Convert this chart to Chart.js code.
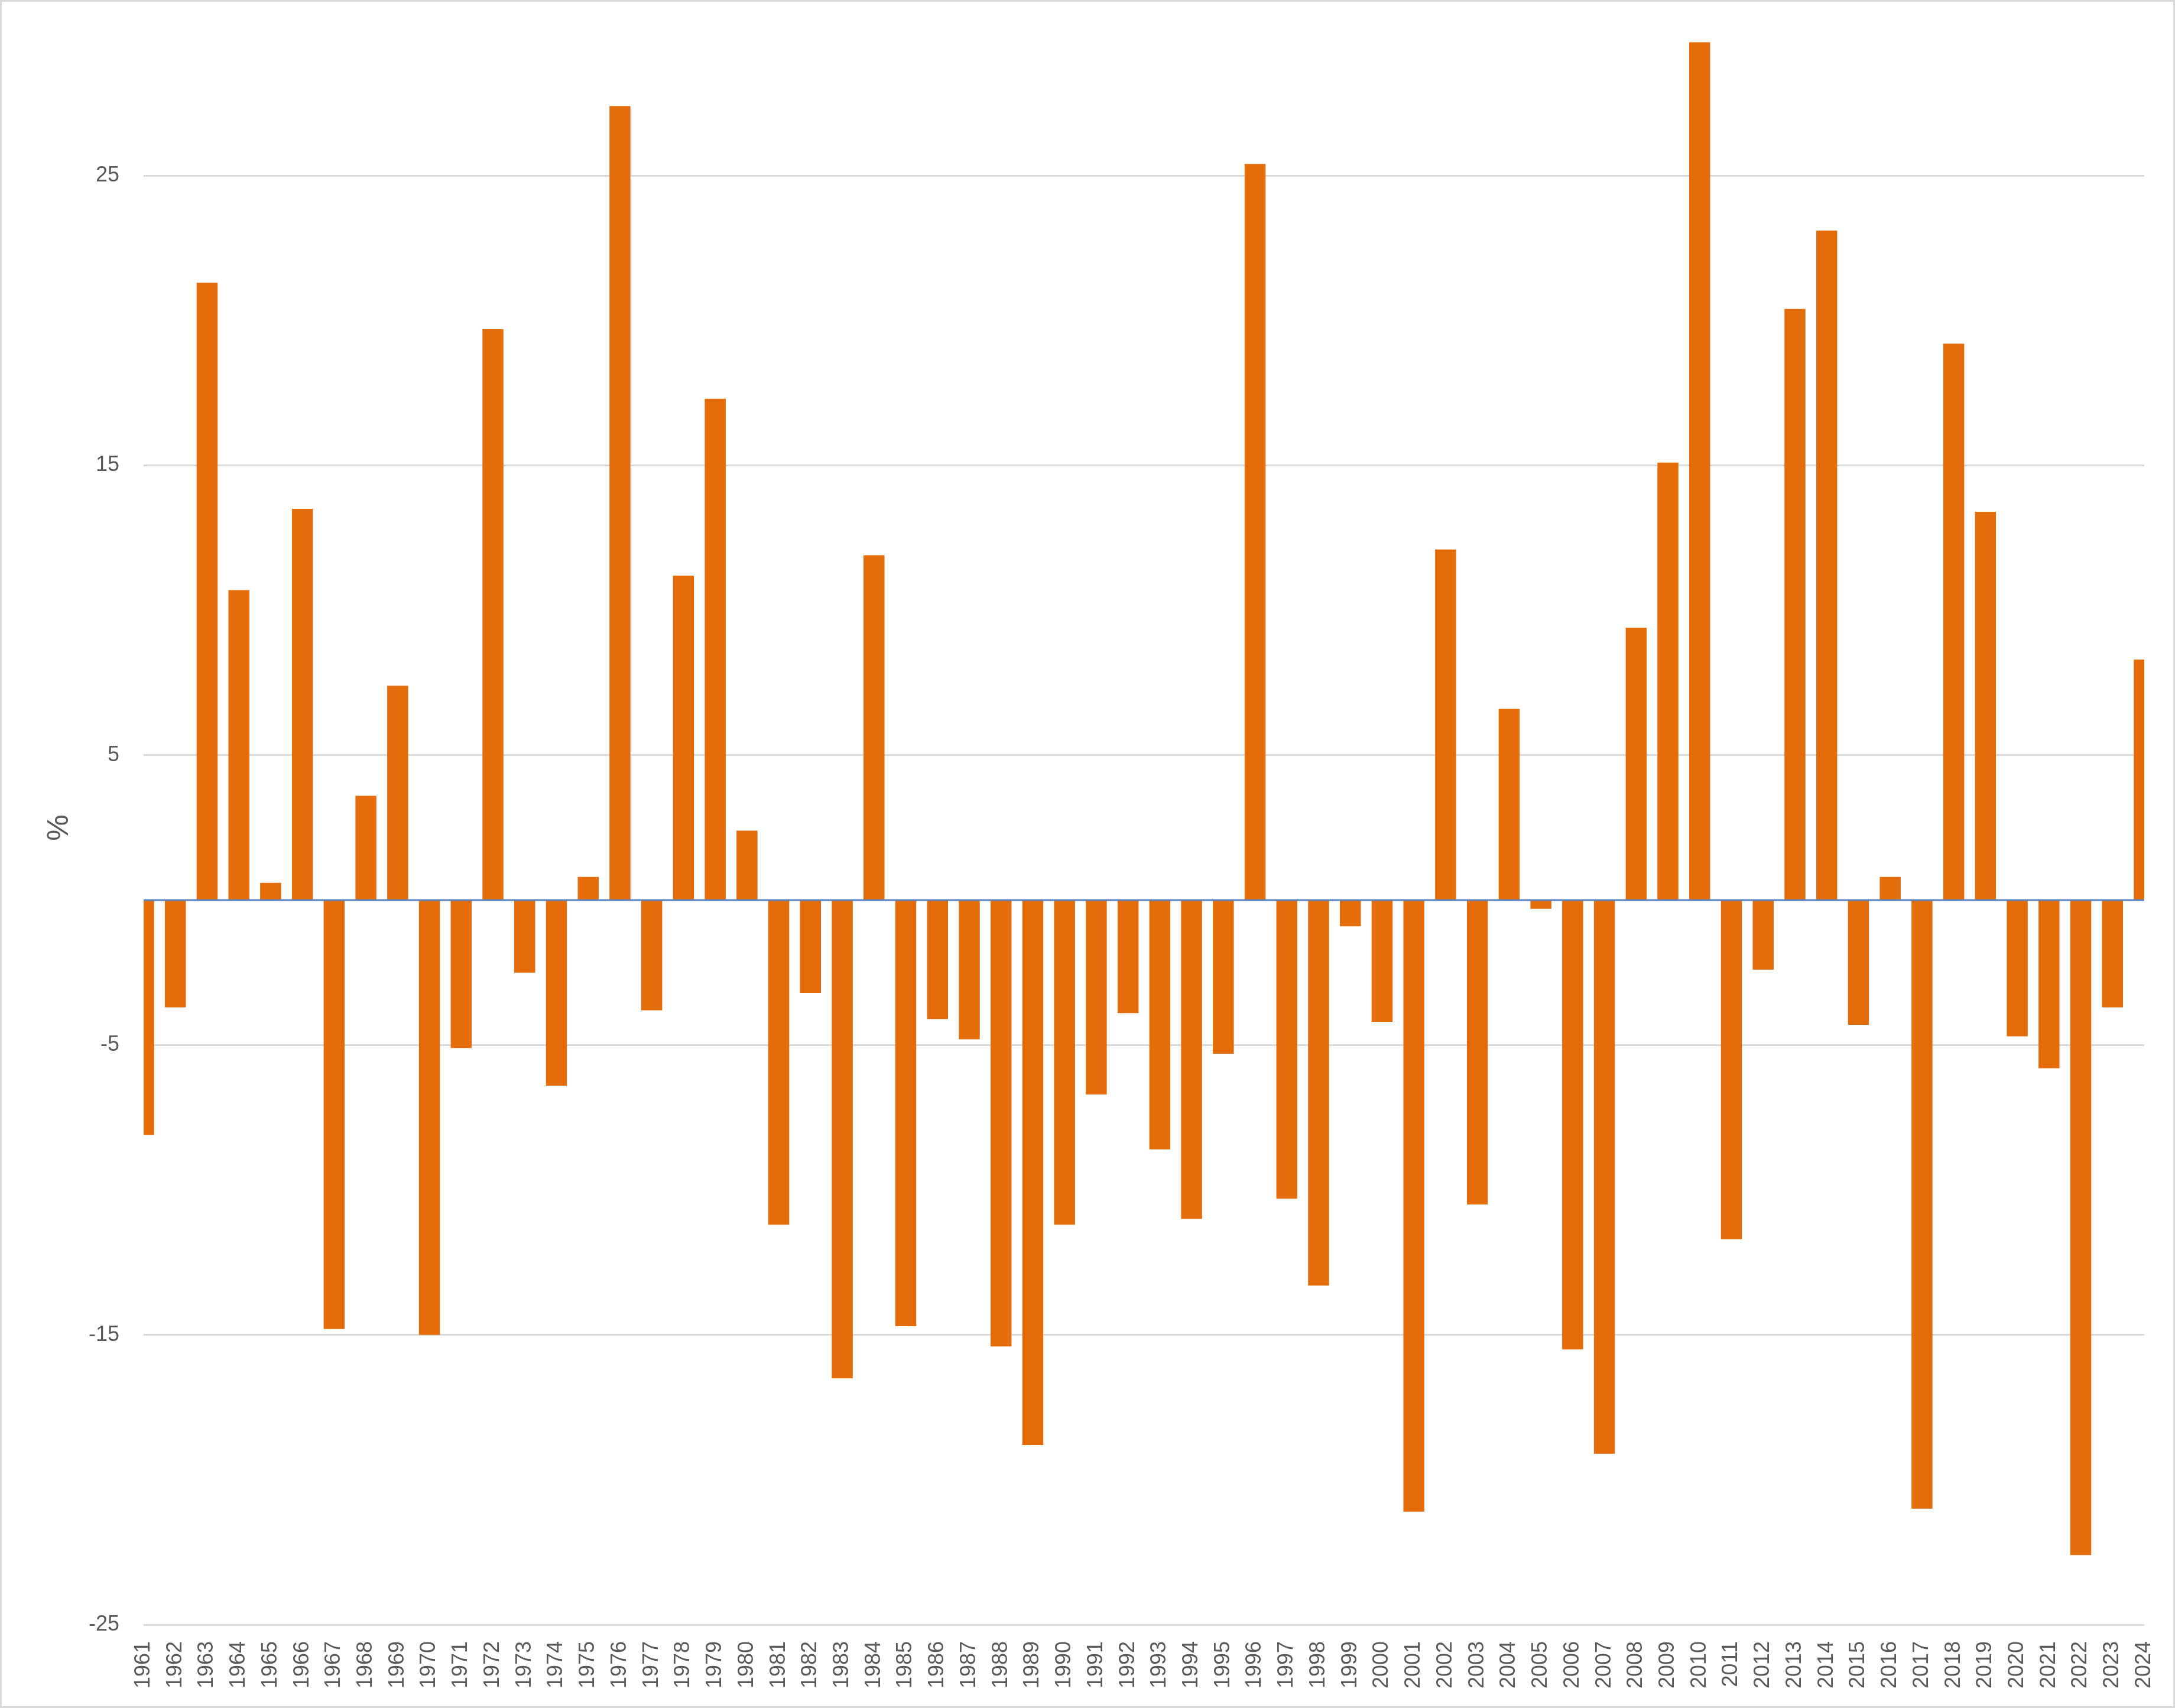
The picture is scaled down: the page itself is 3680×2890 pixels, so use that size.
<!DOCTYPE html>
<html>
<head>
<meta charset="utf-8">
<script src="https://cdn.jsdelivr.net/npm/chart.js@4.4.1/dist/chart.umd.min.js"></script>
<style>
  html, body { margin: 0; padding: 0; background: #ffffff; }
  #frame { width: 3680px; height: 2890px; box-sizing: border-box; border: 3px solid #D9D9D9; background: #fff; }
  canvas { display: block; }
</style>
</head>
<body>
<div id="frame"><canvas id="c" width="3674" height="2884"></canvas></div>
<script>
const years = [
  "1961","1962","1963","1964","1965","1966","1967","1968","1969","1970",
  "1971","1972","1973","1974","1975","1976","1977","1978","1979","1980",
  "1981","1982","1983","1984","1985","1986","1987","1988","1989","1990",
  "1991","1992","1993","1994","1995","1996","1997","1998","1999","2000",
  "2001","2002","2003","2004","2005","2006","2007","2008","2009","2010",
  "2011","2012","2013","2014","2015","2016","2017","2018","2019","2020",
  "2021","2022","2023","2024"
];
const changePct = [
  -8.1, -3.7, 21.3, 10.7, 0.6, 13.5, -14.8, 3.6, 7.4, -15.0,
  -5.1, 19.7, -2.5, -6.4, 0.8, 27.4, -3.8, 11.2, 17.3, 2.4,
  -11.2, -3.2, -16.5, 11.9, -14.7, -4.1, -4.8, -15.4, -18.8, -11.2,
  -6.7, -3.9, -8.6, -11.0, -5.3, 25.4, -10.3, -13.3, -0.9, -4.2,
  -21.1, 12.1, -10.5, 6.6, -0.3, -15.5, -19.1, 9.4, 15.1, 29.6,
  -11.7, -2.4, 20.4, 23.1, -4.3, 0.8, -21.0, 19.2, 13.4, -4.7,
  -5.8, -22.6, -3.7, 8.3
];
const zeroLine = years.map(() => 0);
const yTicks = [-25, -15, -5, 5, 15, 25];
const yMin = -25;
const yMax = 30;
const yTitle = "%";

const textColor = "#595959";
const fontFamily = "'Liberation Sans', Arial, sans-serif";

new Chart(document.getElementById("c"), {
  type: "bar",
  data: {
    labels: years,
    datasets: [
      {
        type: "line",
        data: zeroLine,
        borderColor: "#5B84C1",
        borderWidth: 3,
        pointRadius: 0,
        order: 0,
        clip: 0
      },
      {
        type: "bar",
        data: changePct,
        backgroundColor: "#E46C0A",
        borderWidth: 0,
        categoryPercentage: 1,
        barPercentage: 0.66,
        order: 1,
        clip: 0
      }
    ]
  },
  options: {
    responsive: false,
    animation: false,
    devicePixelRatio: 1,
    layout: { padding: { left: 0, top: 49, right: 49, bottom: 0 } },
    plugins: { legend: { display: false }, tooltip: { enabled: false } },
    scales: {
      x: {
        type: "category",
        offset: false,
        grid: { display: false, drawTicks: false },
        border: { display: false },
        ticks: {
          autoSkip: false,
          minRotation: 90,
          maxRotation: 90,
          padding: 28,
          color: textColor,
          font: { family: fontFamily, size: 36 }
        },
        afterFit: (s) => { s.height = 138; s.paddingLeft = 0; s.paddingRight = 0; }
      },
      y: {
        min: yMin,
        max: yMax,
        afterBuildTicks: (s) => { s.ticks = yTicks.map(v => ({ value: v })); },
        grid: { color: "#D9D9D9", lineWidth: 3, drawTicks: false },
        border: { display: false },
        ticks: {
          padding: 41,
          color: textColor,
          font: { family: fontFamily, size: 36 }
        },
        title: {
          display: true,
          text: yTitle,
          color: textColor,
          padding: { top: 68, bottom: 0 },
          font: { family: fontFamily, size: 50 }
        },
        afterFit: (s) => { s.width = 240; s.paddingTop = 0; s.paddingBottom = 0; }
      }
    }
  }
});
</script>
</body>
</html>
